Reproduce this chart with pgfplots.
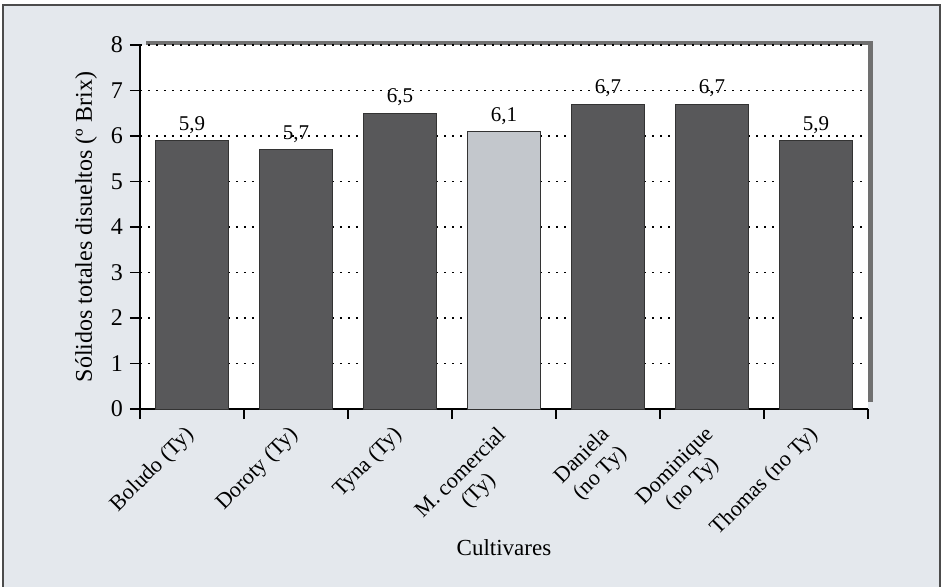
\documentclass[border=0pt]{standalone}
\usepackage{pgfplots}
\pgfplotsset{compat=1.18}
\usepackage{fontspec}
\setmainfont{Liberation Serif}

\definecolor{panel}{HTML}{E4E8ED}
\definecolor{barDark}{HTML}{58585A}
\definecolor{barLight}{HTML}{C3C7CC}
\definecolor{shadowGray}{HTML}{707070}

\pgfplotstableread{
x  y
1  5.9
2  5.7
3  6.5
5  6.7
6  6.7
7  5.9
}\nativos
\pgfplotstableread{
x  y
4  6.1
}\comercial

\begin{document}
\begin{tikzpicture}[font=\fontsize{12}{13.5}\selectfont]
% page area and outer panel
\useasboundingbox (-70pt,-88.5pt) rectangle (401.5pt,204.5pt);
\fill[white] (-70pt,-88.5pt) rectangle (401.5pt,204.5pt);
\filldraw[fill=panel, draw=black!70, line width=0.6pt] (-68.5pt,-92pt) rectangle (400pt,202pt);
% drop shadow behind the plotting area
\fill[shadowGray] (3pt,3.5pt) rectangle (366.5pt,184pt);
\begin{axis}[
  at={(0pt,0pt)}, anchor=origin,
  scale only axis, width=364pt, height=182pt,
  xmin=0.5, xmax=7.5, ymin=0, ymax=8,
  axis background/.style={fill=white},
  axis x line*=bottom, axis y line*=left,
  axis line style={black, line width=0.6pt},
  tick align=outside,
  major tick length=5pt, minor tick length=5pt,
  ytick={0,...,8},
  /pgf/number format/assume math mode=true,
  y tick label style={font=\fontsize{12}{13.5}\selectfont},
  xtick={1,...,7},
  xticklabels={Boludo (Ty), Doroty (Ty), Tyna (Ty), {M. comercial\\(Ty)}, {Daniela\\(no Ty)}, {Dominique\\(no Ty)}, Thomas (no Ty)},
  minor xtick={0.5,1.5,...,7.5},
  major x tick style={draw=none},
  tick style={black, line width=0.6pt},
  x tick label style={font=\fontsize{11}{12.5}\selectfont, xshift=-4pt, yshift=2pt, rotate=45, anchor=north east, align=center},
  ymajorgrids,
  grid style={black, line width=0.8pt, dash pattern=on 0.8pt off 3.2pt},
  xlabel={Cultivares},
  xlabel style={font=\fontsize{11.5}{13}\selectfont, at={(axis description cs:0.5,-0.382)}, anchor=center},
  ylabel={Sólidos totales disueltos (º Brix)},
  ylabel style={at={(axis description cs:-0.0742,0.5)}, anchor=center},
  ybar, bar width=0.7, bar shift=0pt,
  nodes near coords={\pgfmathprintnumber[fixed, fixed zerofill, precision=1, use comma]{\pgfplotspointmeta}},
  nodes near coords style={font=\fontsize{10.5}{12}\selectfont, yshift=0pt},
  point meta=explicit,
]
\addplot[fill=barDark, draw=black!80, line width=0.5pt] table[x=x, y=y, meta=y] {\nativos};
\addplot[fill=barLight, draw=black!80, line width=0.5pt] table[x=x, y=y, meta=y] {\comercial};
\end{axis}
\end{tikzpicture}
\end{document}
